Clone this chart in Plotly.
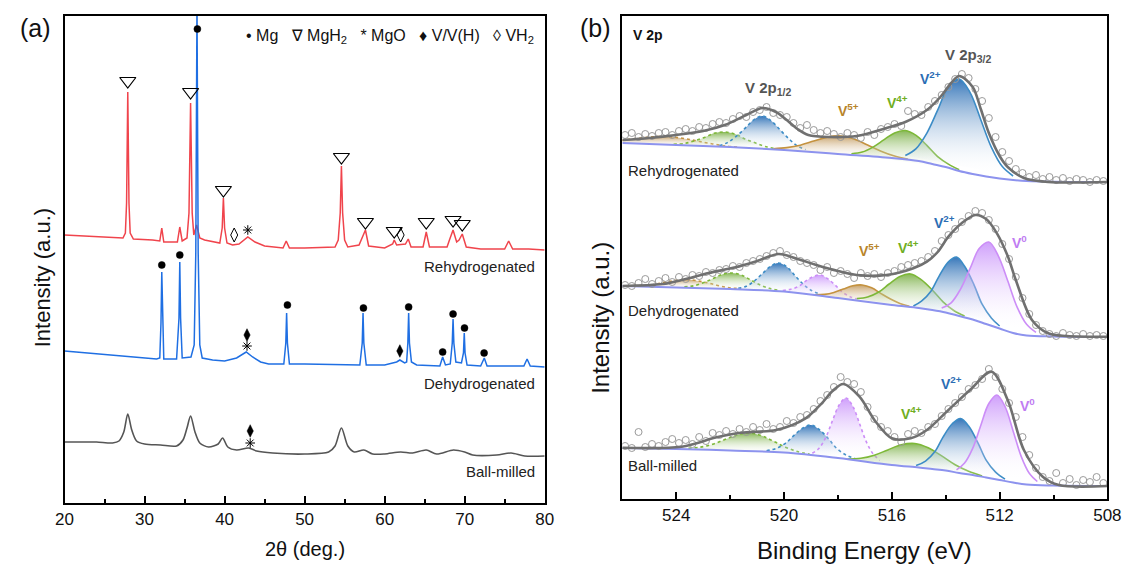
import plotly.graph_objects as go

# ===================== (a) XRD data =====================
tt_rehyd = [20.0, 23.0, 25.0, 27.3, 27.6, 27.75, 27.9, 28.05, 28.2, 28.6, 31.0, 31.9, 32.15, 32.4, 34.1, 34.4, 34.7,
            35.3, 35.55, 35.75, 35.95, 36.15, 36.5, 36.9, 37.5, 39.4, 39.7, 39.85, 40.0, 40.3, 41.0, 41.8, 42.9, 43.8,
            45.0, 47.3, 47.7, 48.1, 50.0, 53.8, 54.2, 54.45, 54.6, 54.75, 55.0, 55.4, 56.8, 57.2, 57.6, 58.0, 60.0,
            61.0, 61.2, 61.5, 62.6, 62.95, 63.3, 64.8, 65.2, 65.6, 67.8, 68.1, 68.55, 69.0, 69.3, 69.7, 70.2, 72.0,
            75.0, 75.5, 76.0, 78.0, 80.0]
i_rehyd = [268, 267, 266, 265, 270, 300, 411, 300, 270, 264, 263, 262, 275, 261, 261, 276, 262,
           265, 290, 400, 290, 268, 278, 265, 263, 260, 275, 305, 275, 260, 258, 259, 266, 261,
           257, 255, 262, 255, 255, 256, 263, 290, 337, 290, 263, 256, 258, 266, 273, 257, 255,
           259, 263, 258, 259, 264, 256, 256, 271, 256, 256, 263, 273, 261, 263, 269, 256, 254,
           254, 262, 254, 254, 253]

tt_dehyd = [20.0, 24.0, 28.0, 31.5, 31.9, 32.05, 32.15, 32.25, 32.4, 34.0, 34.3, 34.4, 34.5, 34.7, 35.8, 36.2,
            36.4, 36.55, 36.7, 36.9, 37.2, 38.5, 40.0, 41.5, 42.7, 43.5, 44.5, 45.5, 47.4, 47.65, 47.75, 47.85,
            48.1, 50.0, 56.9, 57.2, 57.3, 57.4, 57.7, 60.0, 61.5, 61.9, 62.5, 62.75, 62.9, 63.0, 63.1, 63.35,
            64.0, 66.9, 67.25, 67.6, 68.2, 68.45, 68.55, 68.65, 68.9, 69.6, 69.85, 69.95, 70.05, 70.3, 72.0,
            72.45, 72.8, 77.4, 77.8, 78.2, 80.0]
i_dehyd = [152, 149, 146, 144, 145, 180, 231, 180, 144, 144, 185, 241, 185, 145, 146, 158,
           250, 500, 250, 158, 145, 143, 142, 145, 151, 146, 141, 139, 139, 160, 190, 160,
           139, 139, 138, 160, 190, 160, 138, 138, 141, 143, 140, 141, 160, 190, 160, 141,
           138, 137, 146, 138, 139, 160, 184, 160, 141, 140, 150, 170, 150, 138, 137,
           145, 137, 137, 144, 137, 136]

tt_ball = [20.0, 22.0, 24.0, 26.0, 26.8, 27.4, 27.9, 28.4, 29.0, 30.0, 32.0, 34.0, 34.8, 35.3, 35.75, 36.3,
           36.9, 38.0, 39.2, 39.75, 40.4, 41.5, 43.0, 44.0, 46.0, 50.0, 53.0, 53.8, 54.6, 55.4, 56.2, 57.4,
           58.5, 60.0, 62.0, 63.5, 65.2, 66.5, 68.6, 70.0, 71.0, 74.0, 75.8, 77.5, 80.0]
i_ball = [61, 61, 61, 60, 62, 71, 89, 73, 62, 59, 58, 57, 63, 75, 87, 71,
          60, 56, 59, 65, 56, 53, 55, 52, 50, 49, 51, 57, 75, 57, 51, 53,
          49, 49, 51, 50, 53, 49, 53, 51, 48, 48, 50, 47, 47]

# phase markers (2theta, intensity)
mgh2_tt = [27.9, 35.75, 39.85, 54.6, 57.6, 61.2, 65.2, 68.55, 69.7]
mgh2_i = [422, 411, 313, 346, 281, 272, 281, 283, 279]
vh2_tt = [41.2, 62.0]
vh2_i = [268, 268]
mgo_tt = [42.9, 42.8, 43.2]
mgo_i = [273, 157, 60]
vvh_tt = [42.8, 61.9, 43.2]
vvh_i = [168, 152, 72]
mg_tt = [32.15, 34.4, 36.6, 47.85, 57.35, 63.0, 67.25, 68.55, 69.98, 72.43]
mg_i = [238, 248, 474, 198, 195, 196, 151, 189, 175, 150]

# ===================== (b) XPS data =====================
be_grid = [525.9, 525.65, 525.4, 525.15, 524.9, 524.65, 524.4, 524.15, 523.9, 523.65, 523.4, 523.15,
           522.9, 522.65, 522.4, 522.15, 521.9, 521.65, 521.4, 521.15, 520.9, 520.65, 520.4, 520.15,
           519.9, 519.65, 519.4, 519.15, 518.9, 518.65, 518.4, 518.15, 517.9, 517.65, 517.4, 517.15,
           516.9, 516.65, 516.4, 516.15, 515.9, 515.65, 515.4, 515.15, 514.9, 514.65, 514.4, 514.15,
           513.9, 513.65, 513.4, 513.15, 512.9, 512.65, 512.4, 512.15, 511.9, 511.65, 511.4, 511.15,
           510.9, 510.65, 510.4, 510.15, 509.9, 509.65, 509.4, 509.15, 508.9, 508.65, 508.4, 508.15]

rh_data = [364, 366, 362, 365, 363, 366, 367, 364, 368, 370, 368, 372,
           371, 375, 377, 376, 380, 383, 382, 387, 389, 392, 386, 384,
           382, 376, 371, 374, 369, 366, 368, 365, 362, 366, 364, 361,
           367, 364, 370, 372, 375, 373, 388, 385, 384, 392, 398, 404,
           412, 420, 425, 421, 410, 398, 381, 362, 347, 338, 330, 326,
           322, 324, 320, 322, 319, 321, 318, 320, 319, 317, 319, 318]
dh_data = [214, 213, 216, 220, 215, 218, 221, 217, 222, 220, 224, 223,
           227, 226, 229, 230, 233, 232, 236, 238, 240, 243, 246, 248,
           244, 242, 238, 236, 234, 229, 232, 226, 228, 225, 221, 226,
           223, 225, 222, 226, 228, 232, 234, 236, 238, 242, 248, 258,
           264, 270, 277, 283, 288, 286, 279, 270, 255, 240, 222, 201,
           185, 174, 168, 165, 163, 166, 164, 163, 165, 163, 164, 163]
bm_data = [53, 51, 67, 52, 55, 53, 57, 60, 56, 59, 55, 62,
           58, 66, 64, 68, 65, 70, 67, 72, 69, 75, 70, 72,
           78, 76, 82, 84, 90, 98, 104, 112, 122, 117, 115, 107,
           92, 80, 72, 68, 62, 57, 65, 68, 66, 72, 75, 83,
           90, 96, 102, 110, 114, 120, 130, 122, 110, 96, 82, 62,
           44, 31, 22, 18, 26, 16, 20, 14, 19, 17, 22, 16]

bg_be = [526.0, 524.0, 522.0, 520.0, 518.0, 516.0, 515.0, 514.5, 514.0, 513.5, 513.0, 512.5, 512.0, 511.5,
         511.0, 510.0, 508.0]
rh_bg = [356, 354, 352, 349, 345, 341, 338, 335, 332, 328, 325, 322.5, 320.5, 319, 318, 317.3, 317]
dh_bg = [213, 211.5, 210, 207.5, 201, 194, 191, 189, 186.5, 183, 179.5, 175, 170.5, 166, 163.5, 162.5, 162]
bm_bg = [51, 50, 48.5, 46.5, 41, 34, 31.5, 30, 28.5, 26, 24, 21.5, 19, 16.5, 14.5, 13.5, 13]

rh_env_be = [526.0, 525.0, 524.0, 523.0, 522.2, 521.4, 520.8, 520.3, 519.9, 519.5, 519.1, 518.3, 517.3, 516.2,
             515.5, 514.7, 514.2, 513.8, 513.5, 513.0, 512.7, 512.4, 512.0, 511.7, 511.1, 510.2, 508.0]
rh_env = [359, 361, 364, 368, 374, 384, 391, 387, 379, 370, 364, 362, 363, 371,
          377, 389, 402, 416, 423, 412, 390, 366, 343, 332, 321, 317, 317]
dh_env_be = [526.0, 524.5, 523.8, 522.8, 521.8, 521.0, 520.2, 519.5, 518.8, 518.0, 517.3, 516.2, 515.2,
             514.7, 514.3, 513.9, 513.4, 512.9, 512.5, 512.1, 511.7, 511.4, 510.8, 510.2, 509.5, 508.0]
dh_env = [213, 215, 219, 226, 231.7, 238, 245, 240, 234, 228, 224, 224, 230.7,
          237.3, 247, 262.3, 276, 284, 280, 265.7, 243, 219, 179, 165.7, 163, 162.3]
bm_env_be = [526.0, 523.8, 522.5, 521.6, 520.3, 519.2, 518.6, 518.2, 517.8, 517.2, 516.6, 516.0, 515.3,
             514.7, 513.9, 513.1, 512.3, 511.7, 511.1, 510.4, 509.8, 508.0]
bm_env = [51.3, 52.3, 61.7, 66.3, 69, 80.7, 95.7, 108, 115, 102.3, 77.3, 60.7, 60.7,
          69, 89, 109, 127.3, 99, 49, 22.3, 14, 13]

# fitted components (binding energy, intensity incl. background)
rh_v2_32_be = [515.5, 515.1, 514.7, 514.3, 513.9, 513.5, 513.1, 512.7, 512.3, 511.9, 511.5]
rh_v2_32 = [343.5, 350.4, 365.9, 388.8, 412.2, 420, 406.7, 379.3, 351.4, 332.4, 323]
rh_v4_32_be = [517.5, 517.1, 516.7, 516.3, 515.9, 515.5, 515.1, 514.7, 514.3, 513.9, 513.5]
rh_v4_32 = [345.3, 346.9, 351.9, 359.1, 366.1, 368.5, 363.6, 353.6, 342.4, 334.9, 329.3]
rh_v5_32_be = [520.4, 519.9, 519.4, 518.9, 518.4, 517.9, 517.4, 516.9, 516.4, 515.9, 515.4]
rh_v5_32 = [350.3, 351.4, 353.8, 357.9, 361.9, 363, 359.9, 353.9, 347.8, 342.9, 339.8]
rh_v2_12_be = [522.4, 522.1, 521.8, 521.45, 521.1, 520.8, 520.5, 520.15, 519.8, 519.5, 519.2]
rh_v2_12 = [353.4, 356.4, 362.1, 370.7, 379.7, 383, 378.7, 369.2, 359.6, 352.9, 349.4]
rh_v4_12_be = [524.1, 523.7, 523.35, 522.95, 522.6, 522.2, 521.8, 521.45, 521.05, 520.7, 520.3]
rh_v4_12 = [354.7, 355.5, 357.9, 361.6, 365.7, 367, 364.7, 360.1, 355.9, 352.5, 350.2]
rh_v5_12_be = [527.15, 526.6, 526.05, 525.5, 524.95, 524.4, 523.85, 523.3, 522.75, 522.2, 521.65]
rh_v5_12 = [356.9, 357.1, 358.6, 360.4, 362.1, 362.5, 361.1, 358.4, 355.6, 353.1, 351.9]

dh_v0_32_be = [514.15, 513.8, 513.45, 513.1, 512.75, 512.4, 512.05, 511.7, 511.35, 511.0, 510.65]
dh_v0_32 = [191.1, 196.2, 209.9, 230.3, 250.7, 257, 243.2, 218.3, 191.9, 174.7, 166.6]
dh_v2_32_be = [515.2, 514.9, 514.55, 514.25, 513.9, 513.6, 513.3, 512.95, 512.65, 512.3, 512.0]
dh_v2_32 = [193, 197.8, 207.8, 222.7, 237.2, 242, 232.7, 214.2, 194.8, 180.8, 173]
dh_v4_32_be = [517.3, 516.9, 516.5, 516.1, 515.7, 515.3, 514.9, 514.5, 514.1, 513.7, 513.3]
dh_v4_32 = [200.4, 202, 206.7, 215, 222.6, 225, 219.1, 209, 197.2, 188.5, 182.9]
dh_v5_32_be = [518.85, 518.5, 518.15, 517.8, 517.45, 517.1, 516.75, 516.4, 516.05, 515.7, 515.35]
dh_v5_32 = [204.2, 204.6, 206.5, 209.9, 213.2, 214, 211.2, 205.4, 200, 195.6, 192.7]
dh_v0_12_be = [520.05, 519.75, 519.45, 519.2, 518.9, 518.65, 518.4, 518.1, 517.85, 517.55, 517.3]
dh_v0_12 = [208.4, 209.8, 212.7, 217.9, 222.6, 224, 220.6, 213.9, 207.2, 202.3, 199.9]
dh_v2_12_be = [521.7, 521.4, 521.1, 520.8, 520.5, 520.2, 519.9, 519.6, 519.3, 519.0, 518.7]
dh_v2_12 = [210.7, 212.8, 218.1, 225.5, 232.7, 236, 232.2, 223.5, 215.1, 208.8, 205.2]
dh_v4_12_be = [523.7, 523.35, 523.0, 522.65, 522.3, 521.95, 521.6, 521.25, 520.9, 520.55, 520.2]
dh_v4_12 = [212.2, 213.2, 216.2, 220.2, 224.6, 226, 224.1, 219.2, 214.2, 210.7, 208.7]
dh_v5_12_be = [525.6, 525.2, 524.8, 524.4, 524.0, 523.6, 523.2, 522.8, 522.4, 522.0, 521.6]
dh_v5_12 = [213.4, 213.6, 214.6, 216.9, 218.6, 219.5, 218.1, 215.9, 213.1, 211.1, 210.4]

bm_v0_32_be = [513.6, 513.3, 513.0, 512.7, 512.4, 512.1, 511.8, 511.5, 511.2, 510.9, 510.6]
bm_v0_32 = [29.2, 36, 50.6, 73.6, 95.5, 104, 92.5, 68.1, 42.6, 25.7, 17.5]
bm_v2_32_be = [515.1, 514.75, 514.4, 514.1, 513.75, 513.45, 513.15, 512.8, 512.5, 512.15, 511.8]
bm_v2_32 = [33.4, 37.9, 47.4, 61.9, 75.5, 80.5, 73, 55.9, 38.9, 26.9, 19.9]
bm_v4_32_be = [517.65, 517.15, 516.65, 516.15, 515.65, 515.15, 514.65, 514.15, 513.65, 513.15, 512.65]
bm_v4_32 = [40, 40.7, 43.8, 49.1, 54.2, 55.5, 51.2, 43.1, 34.3, 27.7, 23]
bm_v0_12_be = [518.95, 518.7, 518.45, 518.2, 517.95, 517.7, 517.45, 517.2, 516.95, 516.7, 516.45]
bm_v0_12 = [45.7, 50.8, 61.8, 78.5, 94.3, 101, 92.8, 75.5, 57.3, 45.3, 38.7]
bm_v2_12_be = [520.65, 520.3, 519.95, 519.65, 519.3, 519.0, 518.7, 518.35, 518.05, 517.7, 517.35]
bm_v2_12 = [48.3, 50.5, 55.7, 63.2, 71, 74, 69.5, 60.2, 50.7, 44, 40.3]
bm_v4_12_be = [523.55, 523.1, 522.65, 522.2, 521.75, 521.3, 520.85, 520.4, 519.95, 519.5, 519.05]
bm_v4_12 = [50.8, 51.9, 54.8, 59.4, 64.1, 66, 63.4, 57.9, 51.8, 47.4, 44.8]

# ===================== styling =====================
FONT = "Arial, Liberation Sans, sans-serif"
RED, BLUE_X, GREY_X = "#f0444c", "#1f6fe3", "#555555"
COLS = {
    "blue": ("#3c8cc6", "rgba(45,112,182,0.95)"),
    "green": ("#7db838", "rgba(105,165,45,0.8)"),
    "brown": ("#c4923f", "rgba(180,130,55,0.75)"),
    "purple": ("#cc8ef7", "rgba(195,135,250,0.8)"),
}

fig = go.Figure()

# ---- XRD traces ----
fig.add_trace(go.Scatter(x=tt_ball, y=i_ball, mode="lines",
                         line=dict(color=GREY_X, width=1.6, shape="spline", smoothing=0.8),
                         xaxis="x", yaxis="y", showlegend=False))
fig.add_trace(go.Scatter(x=tt_rehyd, y=i_rehyd, mode="lines", line=dict(color=RED, width=1.5),
                         xaxis="x", yaxis="y", showlegend=False))
fig.add_trace(go.Scatter(x=tt_dehyd, y=i_dehyd, mode="lines", line=dict(color=BLUE_X, width=1.5),
                         xaxis="x", yaxis="y", showlegend=False))

def marks(xs, ys, symbol, size, lw=1.0):
    fig.add_trace(go.Scatter(x=xs, y=ys, mode="markers", xaxis="x", yaxis="y", showlegend=False,
                             cliponaxis=False,
                             marker=dict(symbol=symbol, size=size, color="black",
                                         line=dict(color="black", width=lw))))

marks(mgh2_tt, mgh2_i, "triangle-down-open", 14, 1.2)
marks(vh2_tt, vh2_i, "diamond-tall-open", 10, 1.0)
marks(mgo_tt, mgo_i, "asterisk-open", 8, 1.0)
marks(vvh_tt, vvh_i, "diamond-tall", 9, 0.5)
marks(mg_tt, mg_i, "circle", 7, 0.5)

# ---- XPS traces ----
def comp(be, ys, key, dash):
    lc, fc = COLS[key]
    fig.add_trace(go.Scatter(
        x=be, y=ys, mode="lines", xaxis="x2", yaxis="y2", showlegend=False,
        line=dict(color=lc, width=1.6, dash=dash, shape="spline"),
        fill="toself",
        fillgradient=dict(type="vertical", colorscale=[[0, "rgba(255,255,255,0)"], [1, fc]]),
    ))

def spectrum(bg, env_be, env, data, comps):
    for be, ys, key, dash in comps:
        comp(be, ys, key, dash)
    fig.add_trace(go.Scatter(x=bg_be, y=bg, mode="lines", xaxis="x2", yaxis="y2", showlegend=False,
                             line=dict(color="#8d93ee", width=2, shape="spline")))
    fig.add_trace(go.Scatter(x=be_grid, y=data, mode="markers", xaxis="x2", yaxis="y2", showlegend=False,
                             marker=dict(symbol="circle-open", size=7, color="#9a9a9a",
                                         line=dict(width=1, color="#9a9a9a"))))
    fig.add_trace(go.Scatter(x=env_be, y=env, mode="lines", xaxis="x2", yaxis="y2", showlegend=False,
                             line=dict(color="#707070", width=2.6, shape="spline", smoothing=0.9)))

spectrum(rh_bg, rh_env_be, rh_env, rh_data, [
    (rh_v5_12_be, rh_v5_12, "brown", "dot"),
    (rh_v4_12_be, rh_v4_12, "green", "dot"),
    (rh_v2_12_be, rh_v2_12, "blue", "dot"),
    (rh_v5_32_be, rh_v5_32, "brown", "solid"),
    (rh_v4_32_be, rh_v4_32, "green", "solid"),
    (rh_v2_32_be, rh_v2_32, "blue", "solid"),
])
spectrum(dh_bg, dh_env_be, dh_env, dh_data, [
    (dh_v5_12_be, dh_v5_12, "brown", "dot"),
    (dh_v4_12_be, dh_v4_12, "green", "dot"),
    (dh_v2_12_be, dh_v2_12, "blue", "dot"),
    (dh_v0_12_be, dh_v0_12, "purple", "dot"),
    (dh_v5_32_be, dh_v5_32, "brown", "solid"),
    (dh_v4_32_be, dh_v4_32, "green", "solid"),
    (dh_v2_32_be, dh_v2_32, "blue", "solid"),
    (dh_v0_32_be, dh_v0_32, "purple", "solid"),
])
spectrum(bm_bg, bm_env_be, bm_env, bm_data, [
    (bm_v4_12_be, bm_v4_12, "green", "dot"),
    (bm_v2_12_be, bm_v2_12, "blue", "dot"),
    (bm_v0_12_be, bm_v0_12, "purple", "dot"),
    (bm_v4_32_be, bm_v4_32, "green", "solid"),
    (bm_v2_32_be, bm_v2_32, "blue", "solid"),
    (bm_v0_32_be, bm_v0_32, "purple", "solid"),
])

# ---- annotations ----
ann = []
def txt(x, y, s, size=15, color="#222", xanchor="center", xref="x", yref="y", bold=False, angle=0):
    ann.append(dict(x=x, y=y, xref=xref, yref=yref, text=("<b>%s</b>" % s) if bold else s,
                    showarrow=False, xanchor=xanchor, yanchor="middle", textangle=angle,
                    font=dict(family=FONT, size=size, color=color)))

W, H = 1141.0, 567.0
def P(px, py):
    return px / W, 1 - py / H

# panel labels and axis titles
x_, y_ = P(27, 28); txt(x_, y_, "(a)", 25, "#111", xref="paper", yref="paper")
x_, y_ = P(599, 28); txt(x_, y_, "(b)", 25, "#111", xref="paper", yref="paper")
x_, y_ = P(34, 278); txt(x_, y_, "Intensity (a.u.)", 22, "#111", xref="paper", yref="paper", angle=-90)
x_, y_ = P(603, 318); txt(x_, y_, "Intensity (a.u.)", 24, "#111", xref="paper", yref="paper", angle=-90)
x_, y_ = P(302, 549); txt(x_, y_, "2θ (deg.)", 20, "#111", xref="paper", yref="paper")
x_, y_ = P(873, 550); txt(x_, y_, "Binding Energy (eV)", 24, "#111", xref="paper", yref="paper")
x_, y_ = P(538, 36)
txt(x_, y_, "• Mg&nbsp;&nbsp;&nbsp;∇ MgH<sub>2</sub>&nbsp;&nbsp;&nbsp;* MgO&nbsp;&nbsp;&nbsp;♦ V/V(H)&nbsp;&nbsp;&nbsp;◊ VH<sub>2</sub>",
    16, "#111", xanchor="right", xref="paper", yref="paper")

# XRD sample labels
txt(79.0, 237, "Rehydrogenated", 15, xanchor="right")
txt(79.0, 120, "Dehydrogenated", 15, xanchor="right")
txt(79.0, 32, "Ball-milled", 15, xanchor="right")

# XPS labels
def t2(be, y, s, size=14, color="#222", xanchor="center", bold=False):
    txt(be, y, s, size, color, xanchor=xanchor, xref="x2", yref="y2", bold=bold)

CB, CG, CBR, CP, CGR = "#2b6db4", "#6fae22", "#b8842a", "#c07cf2", "#555555"
t2(525.67, 464, "V 2p", 14, "#111", xanchor="left", bold=True)
t2(520.58, 411, "V 2p<sub>1/2</sub>", 15, CGR, bold=True)
t2(513.16, 444, "V 2p<sub>3/2</sub>", 15, CGR, bold=True)
t2(517.6, 389, "V<sup>5+</sup>", 14, CBR, bold=True)
t2(515.78, 397, "V<sup>4+</sup>", 14, CG, bold=True)
t2(514.55, 421, "V<sup>2+</sup>", 14, CB, bold=True)
t2(525.85, 329, "Rehydrogenated", 15, xanchor="left")
t2(516.84, 249, "V<sup>5+</sup>", 14, CBR, bold=True)
t2(515.4, 252, "V<sup>4+</sup>", 14, CG, bold=True)
t2(514.04, 277, "V<sup>2+</sup>", 14, CB, bold=True)
t2(511.27, 257, "V<sup>0</sup>", 14, CP, bold=True)
t2(525.85, 189, "Dehydrogenated", 15, xanchor="left")
t2(515.27, 86, "V<sup>4+</sup>", 14, CG, bold=True)
t2(513.78, 116, "V<sup>2+</sup>", 14, CB, bold=True)
t2(510.98, 94, "V<sup>0</sup>", 14, CP, bold=True)
t2(525.85, 34, "Ball-milled", 15, xanchor="left")

axis_common = dict(showline=True, mirror=True, linecolor="black", linewidth=2, showgrid=False,
                   zeroline=False)
fig.update_layout(
    width=1141, height=567, margin=dict(l=0, r=0, t=0, b=0), autosize=False,
    paper_bgcolor="white", plot_bgcolor="white", showlegend=False,
    font=dict(family=FONT, color="#111"),
    xaxis=dict(domain=[56.7 / W, 546.7 / W], range=[20, 80], dtick=10, tick0=20, ticks="inside",
               ticklen=7, tickwidth=1.5, tickcolor="black", tickfont=dict(size=17, family=FONT),
               minor=dict(ticks="inside", ticklen=4, dtick=5, tickcolor="black", tickwidth=1.5),
               anchor="y", **axis_common),
    yaxis=dict(domain=[1 - 503 / H, 1 - 16 / H], range=[0, 487], showticklabels=False, ticks="",
               anchor="x", **axis_common),
    xaxis2=dict(domain=[626 / W, 1121 / W], range=[526, 508], dtick=4, tick0=508, ticks="inside",
                ticklen=7, tickwidth=1.5, tickcolor="black", tickfont=dict(size=17, family=FONT),
                minor=dict(ticks="inside", ticklen=4, dtick=2, tickcolor="black", tickwidth=1.5),
                anchor="y2", **axis_common),
    yaxis2=dict(domain=[1 - 499 / H, 1 - 16 / H], range=[0, 483], showticklabels=False, ticks="",
                anchor="x2", **axis_common),
    annotations=ann,
)

fig.write_html("out.html", include_plotlyjs=True,
               config={"displayModeBar": False, "responsive": False},
               post_script="document.body.style.margin='0';document.body.style.padding='0';"
                           "document.body.style.overflow='hidden';"
                           "document.documentElement.style.overflow='hidden';")
